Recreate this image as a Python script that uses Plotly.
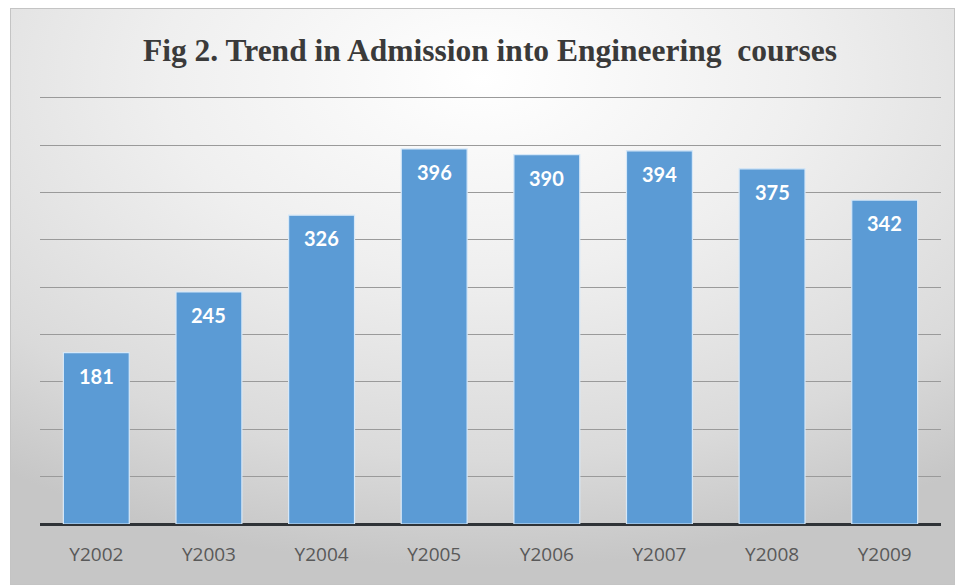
import base64
import plotly.graph_objects as go

categories = ["Y2002", "Y2003", "Y2004", "Y2005", "Y2006", "Y2007", "Y2008", "Y2009"]
admissions = [181, 245, 326, 396, 390, 394, 375, 342]
y_ticks = [0, 50, 100, 150, 200, 250, 300, 350, 400, 450]
title_text = "Fig 2. Trend in Admission into Engineering&nbsp; courses"

svg = (
    "<svg xmlns='http://www.w3.org/2000/svg' width='945' height='577' preserveAspectRatio='none'>"
    "<defs><radialGradient id='g' cx='0.5' cy='0.12' r='0.85' fx='0.5' fy='0.12'>"
    "<stop offset='0' stop-color='#ffffff'/>"
    "<stop offset='0.4' stop-color='#efefef'/>"
    "<stop offset='0.78' stop-color='#dadada'/>"
    "<stop offset='1' stop-color='#c6c6c6'/>"
    "</radialGradient></defs>"
    "<rect x='0' y='0' width='945' height='577' fill='url(#g)'/>"
    "<rect x='0.5' y='0.5' width='944' height='576' fill='none' stroke='#c4c4c4' stroke-width='1'/>"
    "</svg>"
)
bg_src = "data:image/svg+xml;base64," + base64.b64encode(svg.encode()).decode()

W, H = 960, 585
L, R, T, B = 40, 19, 93, 61
pw, ph = W - L - R, H - T - B

def px_x(px):
    return (px - L) / pw

def px_y(py):
    return (H - B - py) / ph

fig = go.Figure()
fig.add_trace(go.Bar(
    x=categories,
    y=admissions,
    marker=dict(color="#5b9bd5", line=dict(color="#d6e8f8", width=1.2)),
    hoverinfo="skip",
))

label_annotations = [
    dict(
        x=c, y=v, xref="x", yref="y", text="<b>%d</b>" % v,
        showarrow=False, yanchor="middle", xanchor="center", yshift=-23,
        font=dict(family="Lato, sans-serif", size=20, color="#ffffff"),
    )
    for c, v in zip(categories, admissions)
]

title_annotation = dict(
    text="<b>" + title_text + "</b>", xref="paper", yref="paper",
    x=px_x(490), y=px_y(50), xanchor="center", yanchor="middle",
    showarrow=False,
    font=dict(family="Liberation Serif", size=31.5, color="#3a3a3a"),
)

fig.update_layout(
    width=W, height=H,
    margin=dict(l=L, r=R, t=T, b=B),
    paper_bgcolor="#ffffff",
    plot_bgcolor="rgba(0,0,0,0)",
    bargap=0.415,
    showlegend=False,
    images=[dict(
        source=bg_src, xref="paper", yref="paper",
        x=px_x(10), y=px_y(8), sizex=945 / pw, sizey=577 / ph,
        xanchor="left", yanchor="top", sizing="stretch", layer="below",
    )],
    annotations=[title_annotation] + label_annotations,
    xaxis=dict(
        showgrid=False, zeroline=False, showline=False, ticks="",
        tickfont=dict(family="'Open Sans', Lato, sans-serif", size=19, color="#595959"),
        ticklabelstandoff=17,
    ),
    yaxis=dict(
        range=[0, 455], tickvals=y_ticks, showticklabels=False,
        showgrid=True, gridcolor="#9a9a9a", gridwidth=1,
        zeroline=True, zerolinecolor="#2f3337", zerolinewidth=3,
        showline=False, ticks="",
    ),
)

fig.write_html("out.html")
